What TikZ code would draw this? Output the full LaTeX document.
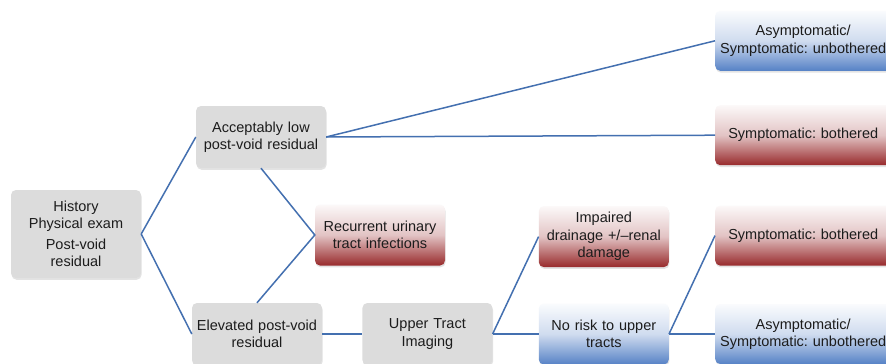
\documentclass[tikz,border=0pt]{standalone}
\usepackage{fontspec}
\setmainfont{Liberation Sans}
\usetikzlibrary{positioning, shadows}

\definecolor{linkblue}{RGB}{68,112,176}
\definecolor{boxgray}{RGB}{220,220,220}
\definecolor{badred}{RGB}{152,42,44}
\definecolor{goodblue}{RGB}{86,130,198}
\definecolor{txtgray}{RGB}{28,28,28}

\begin{document}
\frenchspacing
\begin{tikzpicture}[
    x=1pt, y=-1pt,
    box/.style={rectangle, rounded corners=5pt, align=center, text=txtgray, inner sep=2pt,
        font=\fontsize{14.5}{17.5}\selectfont,
        drop shadow={opacity=0.22, shadow xshift=0.6pt, shadow yshift=-1.8pt}},
    graybox/.style={box, fill=boxgray, minimum width=129pt, minimum height=62pt, text width=126pt},
    redbox/.style={box, minimum width=129pt, minimum height=61pt, text width=126pt,
        top color=white!97!badred, bottom color=badred, middle color=white!72!badred},
    bluebox/.style={box, minimum width=129pt, minimum height=61pt, text width=126pt,
        top color=white!97!goodblue, bottom color=goodblue, middle color=white!72!goodblue},
    wide/.style={minimum width=175pt, text width=172pt, minimum height=60pt},
    link/.style={draw=linkblue, line width=1.5pt}
]
    \clip (0,0) rectangle (886,364);
    \fill[white] (0,0) rectangle (886,364);

    % Assessment and first split
    \node[graybox, minimum width=128pt, minimum height=88pt] (hist) at (76,234)
        {History\\Physical exam\\[3pt]Post-void\\residual};
    \node[graybox] (acc) at (261,137) {Acceptably low\\post-void residual};
    \node[graybox] (elev) at (257,334) {Elevated post-void\\residual};
    \node[redbox] (uti) at (380,235) {Recurrent urinary\\tract infections};

    % Upper tract work-up
    \node[graybox, right=40pt of elev] (imaging) {Upper Tract\\Imaging};
    \node[bluebox, right=46pt of imaging] (norisk) {No risk to upper\\tracts};
    \node[redbox, above=36pt of norisk] (impaired) {Impaired\\drainage +/\textendash renal\\damage};

    % Symptom outcomes
    \node[bluebox, wide, right=46pt of norisk] (unboth_low) {Asymptomatic/\\Symptomatic: unbothered};
    \node[redbox, wide, above=38pt of unboth_low] (both_low) {Symptomatic: bothered};
    \node[redbox, wide, above=40pt of both_low] (both_up) {Symptomatic: bothered};
    \node[bluebox, wide, above=34pt of both_up] (unboth_up) {Asymptomatic/\\Symptomatic: unbothered};

    % Connectors
    \draw[link] (hist.east) -- (acc.west);
    \draw[link] (hist.east) -- (elev.west);
    \draw[link] (acc.south) -- (uti.west) -- (elev.north);
    \draw[link] (acc.east) -- (unboth_up.west);
    \draw[link] (acc.east) -- (both_up.west);
    \draw[link] (elev.east) -- (imaging.west);
    \draw[link] (imaging.east) -- (impaired.west);
    \draw[link] (imaging.east) -- (norisk.west);
    \draw[link] (norisk.east) -- (both_low.west);
    \draw[link] (norisk.east) -- (unboth_low.west);

\end{tikzpicture}
\end{document}
